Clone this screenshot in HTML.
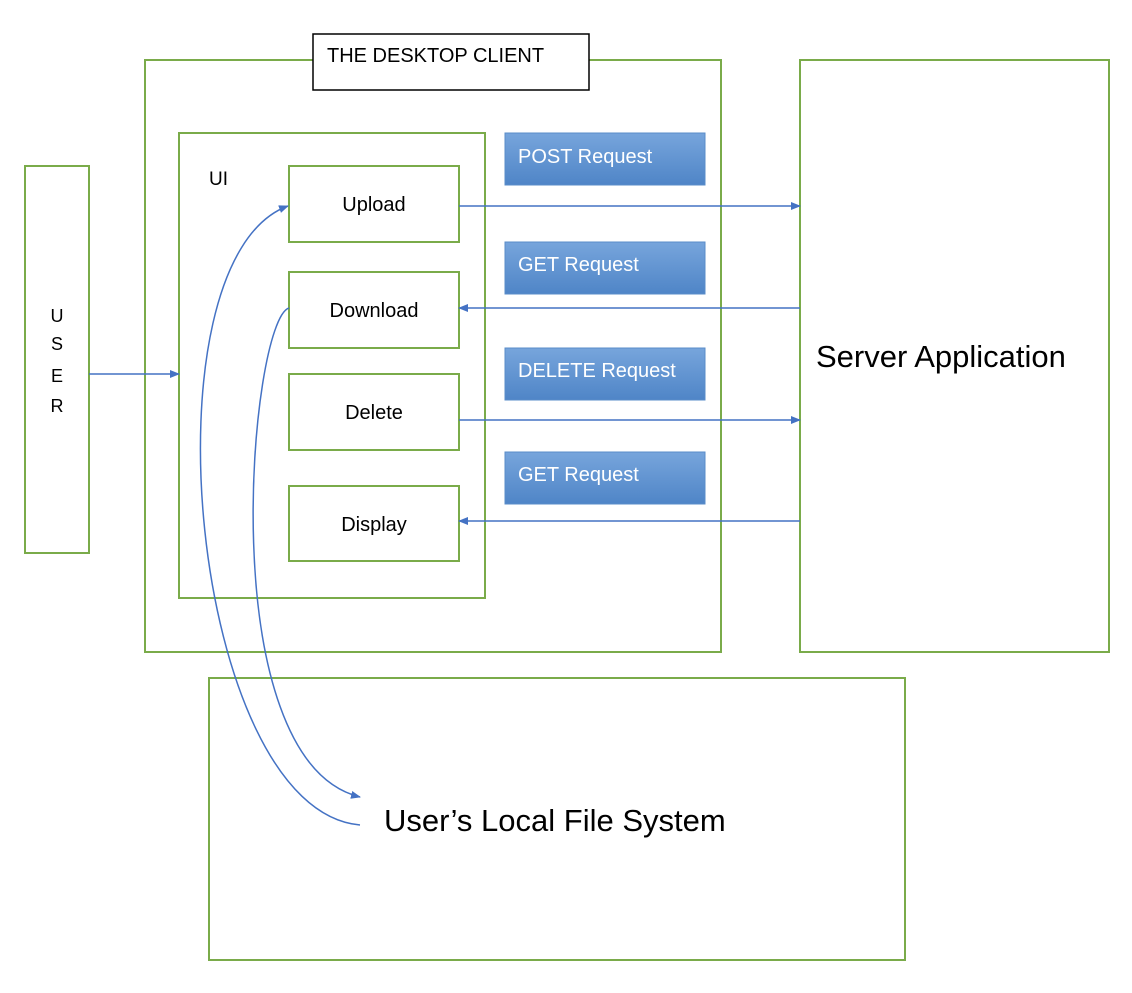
<!DOCTYPE html>
<html><head><style>
body{margin:0;background:#fff;width:1132px;height:988px;overflow:hidden}
text{font-family:"Liberation Sans",sans-serif}
</style></head><body>
<svg width="1132" height="988" xmlns="http://www.w3.org/2000/svg">
<defs>
<linearGradient id="g" x1="0" y1="0" x2="0" y2="1"><stop offset="0" stop-color="#77a5dc"/><stop offset="1" stop-color="#4f85c7"/></linearGradient>
<marker id="a" markerWidth="10" markerHeight="10" refX="9" refY="5" orient="auto" markerUnits="userSpaceOnUse"><path d="M0,1 L10,5 L0,9 z" fill="#4472C4"/></marker>
</defs>
<g fill="none" stroke="#7aab4a" stroke-width="2">
<rect x="145" y="60" width="576" height="592"/>
<rect x="25" y="166" width="64" height="387"/>
<rect x="179" y="133" width="306" height="465"/>
<rect x="289" y="166" width="170" height="76"/>
<rect x="289" y="272" width="170" height="76"/>
<rect x="289" y="374" width="170" height="76"/>
<rect x="289" y="486" width="170" height="75"/>
<rect x="800" y="60" width="309" height="592"/>
<rect x="209" y="678" width="696" height="282"/>
</g>
<rect x="313" y="34" width="276" height="56" fill="#fff" stroke="#000" stroke-width="1.5"/>
<g fill="url(#g)" stroke="#5a8cc8" stroke-width="1">
<rect x="505" y="133" width="200" height="52"/>
<rect x="505" y="242" width="200" height="52"/>
<rect x="505" y="348" width="200" height="52"/>
<rect x="505" y="452" width="200" height="52"/>
</g>
<g stroke="#4472C4" stroke-width="1.5" fill="none" marker-end="url(#a)">
<line x1="459" y1="206" x2="800" y2="206"/>
<line x1="800" y1="308" x2="459" y2="308"/>
<line x1="459" y1="420" x2="800" y2="420"/>
<line x1="800" y1="521" x2="459" y2="521"/>
<line x1="89" y1="374" x2="179" y2="374"/>
<path d="M360,825 C190,810 140,260 288,206"/>
<path d="M289,308 C250,320 210,760 360,797"/>
</g>
<g font-size="20" fill="#000">
<text x="327" y="62">THE DESKTOP CLIENT</text>
<text x="209" y="185" font-size="19">UI</text>
<text x="374" y="211" text-anchor="middle">Upload</text>
<text x="374" y="317" text-anchor="middle">Download</text>
<text x="374" y="419" text-anchor="middle">Delete</text>
<text x="374" y="531" text-anchor="middle">Display</text>
<text x="57" y="322" text-anchor="middle" font-size="18">U</text>
<text x="57" y="350" text-anchor="middle" font-size="18">S</text>
<text x="57" y="382" text-anchor="middle" font-size="18">E</text>
<text x="57" y="412" text-anchor="middle" font-size="18">R</text>
<text x="816" y="367" font-size="31">Server Application</text>
<text x="384" y="831" font-size="31">User’s Local File System</text>
</g>
<g font-size="20" fill="#fff">
<text x="518" y="163">POST Request</text>
<text x="518" y="271">GET Request</text>
<text x="518" y="377">DELETE Request</text>
<text x="518" y="481">GET Request</text>
</g>
</svg>
</body></html>
